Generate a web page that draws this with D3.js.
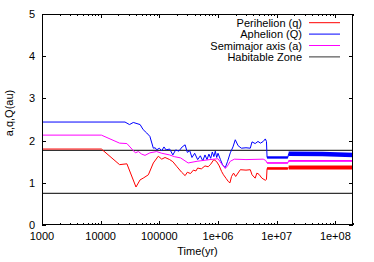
<!DOCTYPE html>
<html lang="en">
<head>
<meta charset="UTF-8" />
<script src="https://d3js.org/d3.v7.min.js"></script>
<title>Orbit evolution</title>
<style>
  body { margin: 0; background: #fff; }
  text { font-family: "Liberation Sans", Arial, sans-serif; font-size: 11px; fill: #000; }
</style>
</head>
<body>
<script>
// time (yr), value (au)
var perihelion = [
  [1000,1.80],[10300,1.80],[21000,1.43],[28000,1.45],[40000,0.90],[47000,1.07],[53000,1.11],
  [65000,1.19],[79000,1.47],[96000,1.63],[110000,1.56],[125000,1.60],[150000,1.55],[170000,1.50],
  [200000,1.38],[240000,1.25],[275000,1.17],[300000,1.25],[340000,1.22],[380000,1.30],[420000,1.28],
  [450000,1.35],[520000,1.33],[600000,1.40],[680000,1.38],[750000,1.44],[850000,1.55],[950000,1.50],
  [1050000,1.40],[1150000,1.27],[1240000,1.19],[1380000,1.10],[1500000,1.03],[1600000,1.00],
  [1700000,1.15],[1840000,1.23],[2000000,1.15],[2400000,1.31],[3000000,1.30],[3550000,1.31],
  [3800000,1.19],[4300000,1.11],[4600000,1.23],[5000000,1.20],[5600000,1.11],[6400000,1.06],
  [6700000,1.08],[6860000,1.34],[15500000,1.34],[16000000,1.36],[200000000,1.36]
];
var aphelion = [
  [1000,2.44],[26000,2.44],[31000,2.38],[36000,2.43],[47000,2.38],[53000,2.26],[61000,2.18],
  [69000,2.10],[79000,1.82],[85000,1.83],[90000,1.78],[100000,1.82],[110000,1.76],[120000,1.85],
  [130000,1.78],[150000,1.80],[170000,1.66],[190000,1.78],[215000,1.75],[245000,1.85],[275000,1.90],
  [300000,1.72],[330000,1.76],[360000,1.60],[400000,1.70],[450000,1.55],[500000,1.64],[550000,1.52],
  [600000,1.66],[650000,1.55],[700000,1.68],[750000,1.58],[800000,1.73],[850000,1.62],[900000,1.75],
  [950000,1.60],[1000000,1.70],[1100000,1.55],[1200000,1.42],[1330000,1.36],[1450000,1.50],
  [1620000,1.71],[1800000,1.85],[1970000,2.02],[2200000,1.88],[2500000,1.82],[3000000,1.83],
  [3550000,1.82],[3800000,1.97],[4300000,1.93],[4800000,1.98],[5300000,1.94],[5900000,1.98],
  [6400000,2.04],[6700000,1.98],[6860000,1.60],[15500000,1.60],[16000000,1.69],[60000000,1.68],
  [200000000,1.66]
];
var semimajor = [
  [1000,2.13],[10300,2.13],[21000,1.94],[28000,1.93],[39000,1.71],[44000,1.74],[50000,1.68],
  [57000,1.65],[69000,1.71],[90000,1.74],[110000,1.70],[150000,1.66],[180000,1.62],[230000,1.59],
  [310000,1.47],[440000,1.51],[730000,1.55],[1000000,1.57],[1150000,1.45],[1330000,1.34],
  [1450000,1.40],[1620000,1.51],[1900000,1.56],[3000000,1.55],[5900000,1.56],[6500000,1.53],
  [6860000,1.47],[15500000,1.47],[16000000,1.52],[200000000,1.52]
];
var habitableZone = [0.75, 1.77];

var xTickValues = [1e3, 1e4, 1e5, 1e6, 1e7, 1e8];
var xTickLabels = ["1000", "10000", "100000", "1e+06", "1e+07", "1e+08"];
var yTickValues = [0, 1, 2, 3, 4, 5];
var legendLabels = ["Perihelion (q)", "Aphelion (Q)", "Semimajor axis (a)", "Habitable Zone"];

var width = 374, height = 262;
var m = {left: 42, right: 21, top: 14, bottom: 37};
var svg = d3.select("body").append("svg").attr("width", width).attr("height", height);

var x = d3.scaleLog().domain([1e3, 2e8]).range([m.left, width - m.right]);
var y = d3.scaleLinear().domain([0, 5]).range([height - m.bottom, m.top]);

var x0 = x.range()[0], x1 = x.range()[1], y0 = y.range()[0], y1 = y.range()[1];

// minor ticks 2..9 of each decade
var minor = [];
for (var d = 1e3; d < 2e8; d *= 10) {
  for (var k = 2; k <= 9; k++) { if (d * k <= 2e8) minor.push(d * k); }
}

var line = d3.line().x(function(d){ return x(d[0]); }).y(function(d){ return y(d[1]); });

var series = [
  {data: perihelion, color: "#ff0000", tail: [2.6, 4]},
  {data: aphelion, color: "#0000ff", tail: [2.4, 4.5]},
  {data: semimajor, color: "#ff00ff", tail: [1.4, 1.6]}
];

var plot = svg.append("g");

// habitable zone lines
habitableZone.forEach(function(v){
  plot.append("line").attr("x1", x0).attr("x2", x1).attr("y1", y(v)).attr("y2", y(v))
    .attr("stroke", "#333").attr("stroke-width", 1.2);
});

series.forEach(function(s){
  plot.append("path").datum(s.data).attr("d", line)
    .attr("fill", "none").attr("stroke", s.color).attr("stroke-width", 1);
  // noisy late-time portions look thick
  var mid = s.data.filter(function(d){ return d[0] >= 6860000 && d[0] <= 15500000; });
  var late = s.data.filter(function(d){ return d[0] >= 16000000; });
  plot.append("path").datum(mid).attr("d", line)
    .attr("fill", "none").attr("stroke", s.color).attr("stroke-width", s.tail[0]);
  plot.append("path").datum(late).attr("d", line)
    .attr("fill", "none").attr("stroke", s.color).attr("stroke-width", s.tail[1]);
});

// border
svg.append("rect").attr("x", x0 + 0.5).attr("y", y1 + 0.5)
  .attr("width", x1 - x0 - 1).attr("height", y0 - y1 - 1)
  .attr("fill", "none").attr("stroke", "#000").attr("stroke-width", 1);

// ticks (inward, mirrored)
var tk = svg.append("g").attr("stroke", "#000").attr("stroke-width", 1);
xTickValues.forEach(function(t){
  var px = Math.round(x(t)) + 0.5;
  tk.append("line").attr("x1", px).attr("x2", px).attr("y1", y0).attr("y2", y0 - 4);
  tk.append("line").attr("x1", px).attr("x2", px).attr("y1", y1).attr("y2", y1 + 4);
});
minor.forEach(function(t){
  var px = Math.round(x(t)) + 0.5;
  tk.append("line").attr("x1", px).attr("x2", px).attr("y1", y0).attr("y2", y0 - 2);
  tk.append("line").attr("x1", px).attr("x2", px).attr("y1", y1).attr("y2", y1 + 2);
});
yTickValues.forEach(function(v){
  var py = Math.round(y(v)) + 0.5;
  tk.append("line").attr("x1", x0).attr("x2", x0 + 4).attr("y1", py).attr("y2", py);
  tk.append("line").attr("x1", x1).attr("x2", x1 - 4).attr("y1", py).attr("y2", py);
});

// tick labels
xTickValues.forEach(function(t, i){
  svg.append("text").attr("x", x(t)).attr("y", y0 + 15)
    .attr("text-anchor", "middle").text(xTickLabels[i]);
});
yTickValues.forEach(function(v){
  svg.append("text").attr("x", x0 - 7).attr("y", y(v) + 4)
    .attr("text-anchor", "end").text(v);
});

svg.append("text").attr("x", (x0 + x1) / 2).attr("y", 255)
  .attr("text-anchor", "middle").text("Time(yr)");
svg.append("text").attr("transform", "translate(12.5,113) rotate(-90)")
  .attr("text-anchor", "middle").text("a,q,Q(au)");

// legend
var legendColors = ["#ff0000", "#0000ff", "#ff00ff", "#333"];
legendLabels.forEach(function(lbl, i){
  var ly = 22.7 + i * 11.4;
  svg.append("text").attr("x", 302).attr("y", ly + 4)
    .attr("text-anchor", "end").text(lbl);
  svg.append("line").attr("x1", 309).attr("x2", 340).attr("y1", ly).attr("y2", ly)
    .attr("stroke", legendColors[i]).attr("stroke-width", 1);
});
</script>
</body>
</html>
